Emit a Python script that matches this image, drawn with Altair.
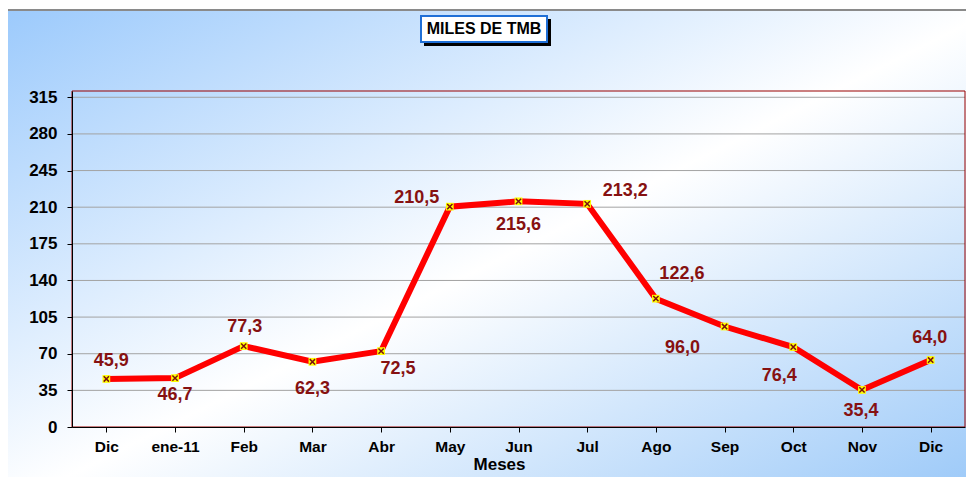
import altair as alt
import pandas as pd

# ---- data ----
months = ["Dic", "ene-11", "Feb", "Mar", "Abr", "May", "Jun", "Jul", "Ago", "Sep", "Oct", "Nov", "Dic "]
values = [45.9, 46.7, 77.3, 62.3, 72.5, 210.5, 215.6, 213.2, 122.6, 96.0, 76.4, 35.4, 64.0]
labels = ["45,9", "46,7", "77,3", "62,3", "72,5", "210,5", "215,6", "213,2", "122,6", "96,0", "76,4", "35,4", "64,0"]
y_ticks = [0, 35, 70, 105, 140, 175, 210, 245, 280, 315]

# label placement (style, pixel offsets from each point)
label_offsets = [(5, -18), (0, 17), (1, -19), (0, 27), (17, 18), (-33, -9), (0, 24),
                 (38, -13), (26, -25), (-42, 21), (-14, 29), (-1, 21), (-1, -22)]

df = pd.DataFrame({"mes": months, "valor": values, "etiqueta": labels})
df["orden"] = range(len(df))
grid_df = pd.DataFrame({"valor": y_ticks[1:]})

W, H = 893, 336
FONT = "Liberation Sans"

x_axis = alt.Axis(labelAngle=0, bandPosition=0, tickSize=5, tickColor="black",
                  domainColor="black", labelFont=FONT, labelFontWeight="bold",
                  labelFontSize=15.5, labelColor="black", labelPadding=7,
                  labelOverlap=False,
                  titleFont=FONT, titleFontWeight="bold", titleFontSize=17,
                  titleColor="black", titleX=427, titleY=29, grid=False, zindex=2)
y_axis = alt.Axis(values=y_ticks, tickSize=5, tickColor="black", domainColor="black",
                  labelFont=FONT, labelFontWeight="bold", labelFontSize=17,
                  labelColor="black", labelPadding=10, labelOverlap=False,
                  grid=False, zindex=2)
x_scale = alt.Scale(paddingInner=0, paddingOuter=0)
y_scale = alt.Scale(domain=[0, 321], nice=False, zero=True)

x_enc = alt.X("mes:N", sort=months, title="Meses", scale=x_scale, axis=x_axis)
y_enc = alt.Y("valor:Q", title=None, scale=y_scale, axis=y_axis)

one = pd.DataFrame({"a": [0]})
grad = alt.LinearGradient(gradient="linear", x1=0, y1=0, x2=1, y2=1,
                          stops=[alt.GradientStop(color="#9ccafc", offset=0),
                                 alt.GradientStop(color="#ffffff", offset=0.5),
                                 alt.GradientStop(color="#96c6f8", offset=1)])

bg = alt.Chart(one).mark_rect(fill=grad, stroke="#8a8a8a", strokeWidth=2).encode(
    x=alt.value(-65), x2=alt.value(W + 30), y=alt.value(-81), y2=alt.value(H + 80))

grid = alt.Chart(grid_df).mark_rule(color="#a3a3a3", strokeWidth=1).encode(
    y=y_enc, x=alt.value(0), x2=alt.value(W))

frame = alt.Chart(one).mark_rect(fill=None, stroke="#990000", strokeWidth=1, filled=False).encode(
    x=alt.value(0), x2=alt.value(W), y=alt.value(0), y2=alt.value(H))

shadow = alt.Chart(one).mark_rect(fill="black").encode(
    x=alt.value(352), x2=alt.value(479), y=alt.value(-72), y2=alt.value(-45))
box = alt.Chart(one).mark_rect(fill="white", stroke="#1f6fd6", strokeWidth=2).encode(
    x=alt.value(349), x2=alt.value(475), y=alt.value(-75), y2=alt.value(-49))
title_txt = alt.Chart(one).mark_text(text="MILES DE TMB", font=FONT, fontWeight="bold",
                                     fontSize=16, color="black", align="center",
                                     baseline="middle").encode(
    x=alt.value(412), y=alt.value(-62))

base = alt.Chart(df)
line = base.mark_line(color="#ff0000", strokeWidth=6).encode(x=x_enc, y=y_enc)
sq = base.mark_point(shape="square", filled=True, color="#ffff00", size=60, opacity=1).encode(
    x=x_enc, y=y_enc)
xs = base.mark_point(shape="M-1,-1L1,1M-1,1L1,-1", filled=False, color="#7a1010",
                     strokeWidth=1.5, size=28, opacity=1).encode(x=x_enc, y=y_enc)

text_layers = []
for i, (dx, dy) in enumerate(label_offsets):
    text_layers.append(
        base.transform_filter(alt.datum.orden == i).mark_text(
            font=FONT, fontWeight="bold", fontSize=18, color="#861111",
            align="center", baseline="middle", dx=dx, dy=dy).encode(
            x=x_enc, y=y_enc, text="etiqueta:N"))

chart = alt.layer(bg, grid, frame, shadow, box, title_txt, line, sq, xs, *text_layers).properties(
    width=W, height=H,
    autosize=alt.AutoSizeParams(type="none"),
    padding={"left": 64, "top": 83, "right": 1, "bottom": 50},
    background="white",
).configure_view(stroke=None)

chart.save("out.html", embed_options={"renderer": "svg", "actions": False})
